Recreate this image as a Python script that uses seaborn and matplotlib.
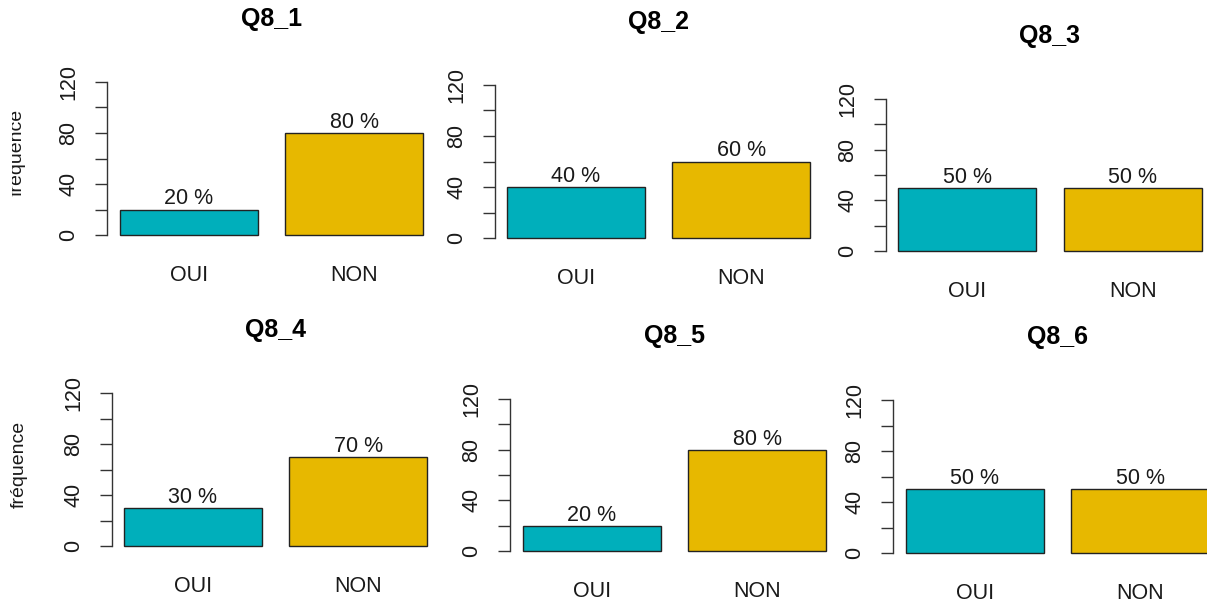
import matplotlib
matplotlib.use("Agg")
import matplotlib.pyplot as plt
import seaborn as sns
import pandas as pd
from matplotlib.transforms import Bbox

# ---- data ----
questions = ["Q8_1", "Q8_2", "Q8_3", "Q8_4", "Q8_5", "Q8_6"]
categories = ["OUI", "NON"]
oui_values = [20, 40, 50, 30, 20, 50]
non_values = [80, 60, 50, 70, 80, 50]
yticks = [0, 20, 40, 60, 80, 100, 120]
ytick_labels = ["0", "", "40", "", "80", "", "120"]
colors = ["#00AFBB", "#E7B800"]
ylabel_text = "fréquence"

sns.set_theme(style="white")
plt.rcParams['font.family'] = ['Liberation Sans', 'DejaVu Sans']

W, H = 1207, 604
fig = plt.figure(figsize=(W / 100, H / 100), dpi=100)

# panel geometry in pixels (top-left origin): axis x, first bar left, last bar right, y of 0, y of 120
panels = [
    (107, 120, 423, 235, 82),
    (495, 507, 810, 238, 85),
    (886, 898, 1202, 251, 99),
    (112, 124, 427, 546, 393),
    (510, 523, 826, 551, 399),
    (893, 906, 1209, 553, 400),
]
BW = 1 / 1.2  # R barplot width=1, space=0.2
TXT = "#1a1a1a"

for i, (q, (xa, xb0, xb1, y0, y120)) in enumerate(zip(questions, panels)):
    ppu_x = (xb1 - xb0) / (1 + BW)
    margin = (xb0 - xa) / ppu_x
    xlo = -BW / 2 - margin
    xhi = 1 + BW / 2 + margin
    ppu_y = (y0 - y120) / 120.0
    ylo, yhi = -4.8, 124.8
    left_px = xa
    right_px = xa + (xhi - xlo) * ppu_x
    top_px = y120 - (yhi - 120) * ppu_y
    bot_px = y0 + (0 - ylo) * ppu_y
    ax = fig.add_axes([left_px / W, 1 - bot_px / H, (right_px - left_px) / W, (bot_px - top_px) / H])

    df = pd.DataFrame({"cat": categories, "val": [oui_values[i], non_values[i]]})
    sns.barplot(data=df, x="cat", y="val", hue="cat", palette=colors, order=categories,
                hue_order=categories, width=BW, edgecolor="#222222", linewidth=1.0,
                legend=False, ax=ax, saturation=1)
    ax.set_xlim(xlo, xhi)
    ax.set_ylim(ylo, yhi)
    ax.set_xlabel("")
    ax.set_ylabel("")
    for s in ["top", "right", "bottom"]:
        ax.spines[s].set_visible(False)
    ax.spines["left"].set_bounds(0, 120)
    ax.spines["left"].set_color("#333333")
    ax.spines["left"].set_linewidth(1.0)
    ax.set_yticks(yticks)
    ax.set_yticklabels(ytick_labels, rotation=90, va="center", fontsize=15.5, color=TXT)
    ax.tick_params(axis="y", left=True, length=9, width=1.0, color="#333333", pad=11)
    ax.tick_params(axis="x", bottom=False, length=0, pad=17.5, labelsize=15.5, labelcolor=TXT)
    ax.set_title(q, fontsize=18, fontweight="bold", pad=36, color="black")

    vals = [oui_values[i], non_values[i]]
    for c, v in zip(ax.containers, vals):
        ax.bar_label(c, labels=[f"{v} %"], padding=0, fontsize=15.5, color=TXT)

    if i in (0, 3):
        yc = 152.5 if i == 0 else 464
        xc = 17.0 if i == 0 else 19.5
        t = fig.text(xc / W, 1 - yc / H, ylabel_text, rotation=90, ha="center", va="center",
                     fontsize=14, color=TXT)
        if i == 0:
            t.set_clip_box(Bbox.from_extents(12.0, 0, 200, H))
            t.set_clip_on(True)

fig.savefig("out.png", dpi=100)
